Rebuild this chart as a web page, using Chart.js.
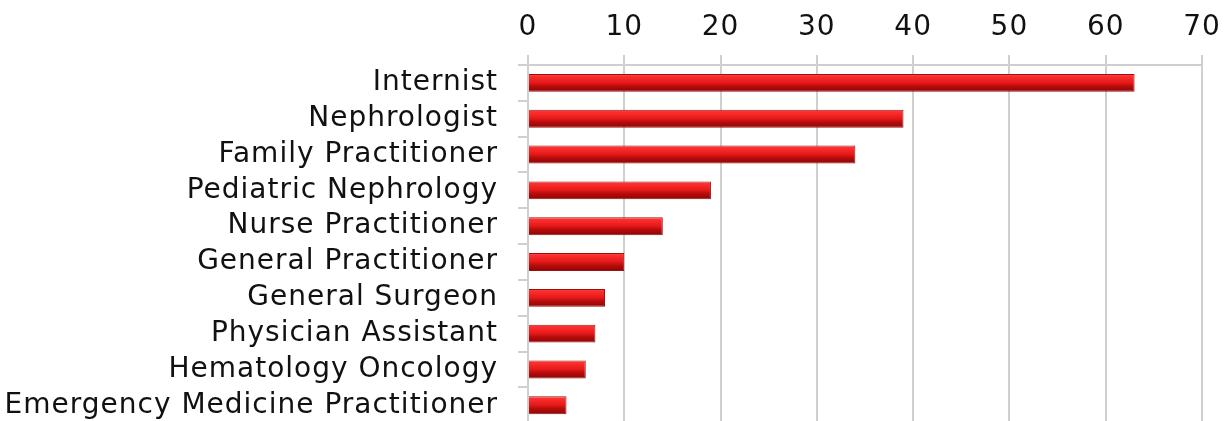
<!DOCTYPE html>
<html>
<head>
<meta charset="utf-8">
<script src="https://cdn.jsdelivr.net/npm/chart.js@4"></script>
<style>
  html, body { margin: 0; padding: 0; background: #fff; overflow: hidden; }
  #wrap { width: 1231px; height: 460px; }
</style>
</head>
<body>
<div id="wrap"><canvas id="chart"></canvas></div>
<script>
// providers by specialty
const specialties = [
  'Internist',
  'Nephrologist',
  'Family Practitioner',
  'Pediatric Nephrology',
  'Nurse Practitioner',
  'General Practitioner',
  'General Surgeon',
  'Physician Assistant',
  'Hematology Oncology',
  'Emergency Medicine Practitioner'
];
const counts = [63, 39, 34, 19, 14, 10, 8, 7, 6, 4];
const xTicks = [0, 10, 20, 30, 40, 50, 60, 70];

const FONT = 'DejaVu Sans';
const GRID = '#cfcfcf';

// glossy red fill, computed per bar from the category scale
function barFill(context) {
  const chart = context.chart;
  const y = chart.scales.y;
  if (!chart.chartArea || !y) return '#d01010';
  const center = y.getPixelForValue(context.dataIndex);
  const half = (y.height / specialties.length) * 0.25;
  const g = chart.ctx.createLinearGradient(0, center - half, 0, center + half);
  g.addColorStop(0, '#f47474');
  g.addColorStop(0.1, '#ff3030');
  g.addColorStop(0.48, '#e61a1a');
  g.addColorStop(0.68, '#b80c0c');
  g.addColorStop(1, '#8c0404');
  return g;
}

// wider tracking for the axis text
const spacing = {
  id: 'spacing',
  beforeLayout: (chart) => { chart.ctx.letterSpacing = '1px'; },
  beforeDraw: (chart) => { chart.ctx.letterSpacing = '1px'; }
};

new Chart(document.getElementById('chart'), {
  type: 'bar',
  data: {
    labels: specialties,
    datasets: [{
      data: counts,
      backgroundColor: barFill,
      borderColor: '#9a1010',
      borderWidth: 1,
      barPercentage: 0.5,
      categoryPercentage: 1
    }]
  },
  plugins: [spacing],
  options: {
    indexAxis: 'y',
    responsive: true,
    maintainAspectRatio: false,
    animation: false,
    layout: { padding: { left: 0, right: 29, top: 0, bottom: 0 } },
    plugins: { legend: { display: false }, tooltip: { enabled: false } },
    scales: {
      x: {
        position: 'top',
        min: 0,
        max: 70,
        afterBuildTicks: (s) => { s.ticks = xTicks.map(v => ({ value: v })); },
        afterFit: (s) => { s.height = 65; },
        grid: { color: GRID, lineWidth: 2, tickLength: 10, drawTicks: true },
        border: { color: GRID, width: 2 },
        ticks: {
          color: '#111',
          padding: 10,
          font: { family: FONT, size: 28 }
        }
      },
      y: {
        afterFit: (s) => { s.width = 528; },
        grid: { color: GRID, lineWidth: 2, tickLength: 10, drawOnChartArea: false, offset: true },
        border: { color: GRID, width: 2 },
        ticks: {
          color: '#111',
          padding: 20,
          autoSkip: false,
          font: { family: FONT, size: 28 }
        }
      }
    }
  }
});
</script>
</body>
</html>
